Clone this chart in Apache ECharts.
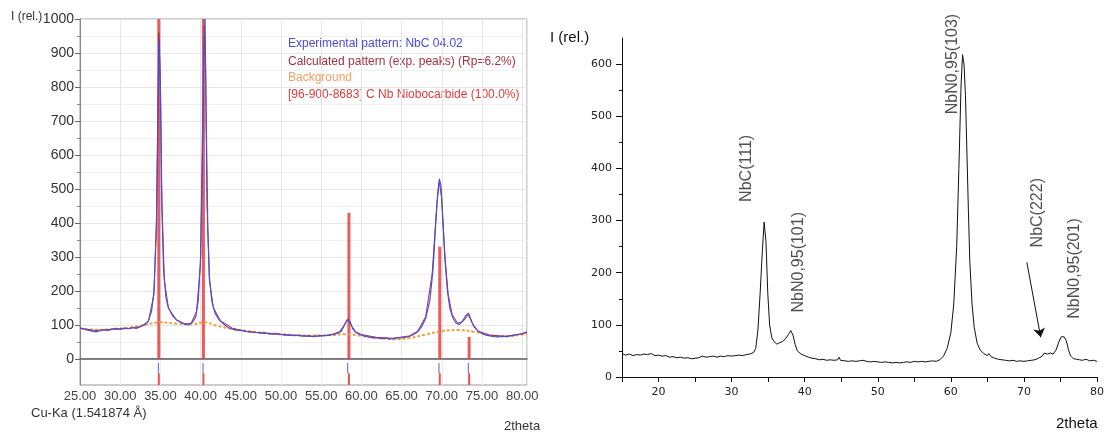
<!DOCTYPE html>
<html>
<head>
<meta charset="utf-8">
<script src="https://cdn.jsdelivr.net/npm/echarts/dist/echarts.min.js"></script>
<style>
html, body { margin: 0; padding: 0; background: #fff; }
#chart { width: 1107px; height: 435px; }
</style>
</head>
<body>
<div id="chart"></div>
<script>
// ---- left panel: refinement of NbC 04.02 ----
var expPattern = [[25,92],[25.5,88],[26,85],[26.5,82],[27,80],[27.5,83],[28,86],[28.5,84],[29,88],[29.5,90],[30,87],[30.5,91],[31,89],[31.5,92],[32,90],[32.5,95],[33,100],[33.5,112],[33.9,140],[34.2,200],[34.5,380],[34.7,700],[34.85,940],[35,800],[35.15,480],[35.4,260],[35.7,180],[36,150],[36.5,128],[37,115],[37.5,108],[38,102],[38.5,100],[39,108],[39.4,125],[39.7,170],[40,300],[40.2,600],[40.4,900],[40.55,1000],[40.7,700],[40.9,380],[41.1,240],[41.4,170],[41.8,135],[42.3,115],[43,100],[43.5,92],[44,88],[44.5,85],[45,84],[45.5,82],[46,80],[46.5,79],[47,78],[47.5,76],[48,77],[48.5,74],[49,73],[49.5,75],[50,72],[50.5,70],[51,71],[51.5,69],[52,70],[52.5,68],[53,67],[53.5,68],[54,66],[54.5,67],[55,68],[55.5,69],[56,70],[56.5,72],[57,75],[57.5,82],[57.9,100],[58.2,115],[58.4,120],[58.6,110],[58.9,90],[59.3,78],[59.8,72],[60.3,68],[61,64],[61.5,62],[62,63],[62.5,60],[63,62],[63.5,59],[64,60],[64.5,62],[65,63],[65.5,64],[66,67],[66.5,72],[67,80],[67.5,95],[68,120],[68.5,170],[68.9,260],[69.2,380],[69.5,490],[69.7,530],[69.9,510],[70.1,420],[70.4,290],[70.7,200],[71,150],[71.4,120],[71.8,105],[72.2,102],[72.6,112],[73,128],[73.3,135],[73.6,118],[74,95],[74.5,82],[75,75],[75.5,70],[76,68],[76.5,66],[77,65],[77.5,67],[78,66],[78.5,68],[79,70],[79.5,72],[80,75],[80.6,80]];

var calcPattern = [[25,90],[27,84],[29,87],[31,90],[32.5,95],[33.5,110],[34.2,190],[34.5,400],[34.8,960],[35,820],[35.2,450],[35.5,230],[36,150],[37,115],[38,104],[38.8,104],[39.5,140],[40,280],[40.3,700],[40.45,980],[40.6,900],[40.8,450],[41.1,230],[41.6,150],[42.5,112],[44,90],[46,80],[48,76],[50,72],[52,69],[54,67],[56,70],[57.3,80],[58,105],[58.35,118],[58.7,100],[59.3,80],[60,72],[62,63],[64,61],[66,68],[67,82],[68,125],[68.8,250],[69.4,460],[69.7,520],[70,470],[70.4,300],[70.8,190],[71.3,130],[72,105],[72.7,112],[73.3,130],[73.8,105],[74.5,82],[76,70],[78,67],[80,74],[80.6,78]];

var backgroundPattern = [[25,90],[27,86],[29,88],[31,92],[33,100],[35,108],[37,104],[39,103],[40.5,108],[42,98],[44,88],[46,82],[48,77],[50,73],[52,70],[54,69],[56,70],[58,73],[60,68],[62,62],[64,58],[66,62],[68,72],[70,82],[72,85],[74,80],[76,70],[78,66],[80,72],[80.6,74]];

// reference card 96-900-8683 (NbC)
var cardPos = [34.8, 40.35, 58.45, 69.75, 73.4];
var cardInt = [1000, 1000, 430, 330, 65];
// peak markers in the strip under the pattern
var expPeakPos = [34.75, 40.3, 58.3, 69.65, 73.3];

// ---- right panel ----
var xrdPattern = [[15,45],[15.5,42],[16,44],[16.5,41],[17,43],[17.5,42],[18,44],[18.5,43],[19,45],[19.5,41],[20,42],[20.5,40],[21,41],[21.5,38],[22,39],[22.5,37],[23,38],[23.5,36],[24,37],[24.5,35],[25,36],[25.5,37],[26,40],[26.5,38],[27,39],[27.5,40],[28,38],[28.5,40],[29,39],[29.5,41],[30,40],[30.5,41],[31,42],[31.5,41],[32,43],[32.5,44],[33,47],[33.3,55],[33.6,90],[33.9,160],[34.2,240],[34.45,297],[34.7,260],[34.95,160],[35.2,100],[35.5,75],[35.8,68],[36.2,63],[36.6,66],[37,68],[37.4,74],[37.8,82],[38.1,89],[38.4,80],[38.7,62],[39,50],[39.5,44],[40,41],[40.5,38],[41,36],[41.5,35],[42,33],[42.5,34],[43,32],[43.5,33],[44,32],[44.5,33],[44.7,38],[44.9,32],[45.5,31],[46,30],[46.5,31],[47,30],[47.5,31],[48,32],[48.5,30],[49,29],[49.5,30],[50,29],[50.5,28],[51,29],[51.5,28],[52,27],[52.5,28],[53,27],[53.5,28],[54,29],[54.5,28],[55,30],[55.5,29],[56,30],[56.5,29],[57,30],[57.5,31],[58,30],[58.5,33],[59,40],[59.5,55],[60,85],[60.4,140],[60.8,250],[61.1,400],[61.4,560],[61.6,618],[61.8,600],[62,540],[62.2,430],[62.4,320],[62.6,220],[62.9,140],[63.2,95],[63.6,65],[64,52],[64.5,45],[65,41],[65.2,45],[65.5,39],[66,36],[66.5,34],[67,33],[67.5,32],[68,31],[68.5,32],[69,30],[69.5,31],[70,30],[70.5,31],[71,32],[71.5,33],[72,36],[72.5,40],[72.8,46],[73.2,44],[73.6,46],[74,44],[74.4,52],[74.8,68],[75.1,77],[75.5,77],[75.8,70],[76.1,52],[76.4,40],[76.8,35],[77.2,34],[77.6,33],[78,32],[78.5,34],[79,31],[79.5,32],[80,30]];

var peakNames = ['NbC(111)', 'NbN0,95(101)', 'NbN0,95(103)', 'NbC(222)', 'NbN0,95(201)'];
var peakNameX = [32.1, 39.2, 60.3, 71.9, 76.9];
var peakNameY = [400, 220, 600, 315, 208];
var arrowFrom = [70.4, 220];
var arrowTo = [72.3, 76];

var rightXLabels = [20, 30, 40, 50, 60, 70, 80];
var rightYLabels = [0, 100, 200, 300, 400, 500, 600];
var rightYMinor = [50, 150, 250, 350, 450, 550];

// build vertical segments, broken with '-'
function sticks(pos, lo, hi) {
  var out = [];
  for (var i = 0; i < pos.length; i++) {
    var a = Array.isArray(lo) ? lo[i] : lo;
    var b = Array.isArray(hi) ? hi[i] : hi;
    out.push([pos[i], a], [pos[i], b], [pos[i], '-']);
  }
  return out;
}

var FONT = 'Liberation Sans, Arial, sans-serif';
var chart = echarts.init(document.getElementById('chart'), null, { renderer: 'canvas' });

var option = {
  animation: false,
  backgroundColor: '#fff',
  grid: [
    { left: 80, width: 447, top: 19, height: 340, show: true, borderColor: '#999', borderWidth: 1 },
    { left: 80, width: 447, top: 359, height: 26, show: true, borderColor: '#999', borderWidth: 1 },
    { left: 622, right: 7, top: 38, bottom: 58 }
  ],
  xAxis: [
    { type: 'value', gridIndex: 0, min: 25, max: 80.6, interval: 5,
      axisLabel: { show: false }, axisTick: { show: false },
      axisLine: { show: true, lineStyle: { color: '#666', width: 1.5 } },
      splitLine: { show: true, lineStyle: { color: '#e6e6e6' } } },
    { type: 'value', gridIndex: 1, min: 25, max: 80.6, interval: 5,
      axisLabel: { color: '#444', fontSize: 13, fontFamily: FONT, margin: 5,
        formatter: function (v) { return v.toFixed(2); } },
      axisTick: { show: false },
      axisLine: { show: false },
      splitLine: { show: true, lineStyle: { color: '#eeeeee' } } },
    { type: 'value', gridIndex: 2, min: 15, max: 80, interval: 5, position: 'bottom',
      axisLine: { show: true, lineStyle: { color: '#111', width: 1 } },
      axisTick: { show: true, length: 5, lineStyle: { color: '#111' } },
      axisLabel: { customValues: rightXLabels, color: '#222', fontSize: 11, fontFamily: 'DejaVu Sans', margin: 10 },
      splitLine: { show: false } }
  ],
  yAxis: [
    { type: 'value', gridIndex: 0, min: 0, max: 1000, interval: 100,
      axisLine: { show: true, lineStyle: { color: '#888' } },
      axisTick: { show: true, length: 5, lineStyle: { color: '#666' } },
      minorTick: { show: true, splitNumber: 2, length: 3, lineStyle: { color: '#888' } },
      axisLabel: { color: '#333', fontSize: 14, fontFamily: FONT, margin: 6,
        formatter: function (v) { return String(v); } },
      splitLine: { show: true, lineStyle: { color: '#e6e6e6' } },
      minorSplitLine: { show: true, lineStyle: { color: '#f0f0f0' } } },
    { type: 'value', gridIndex: 1, min: 0, max: 10, inverse: true,
      axisLine: { show: true, lineStyle: { color: '#888' } },
      axisTick: { show: false }, axisLabel: { show: false }, splitLine: { show: false } },
    { type: 'value', gridIndex: 2, min: 0, max: 650, position: 'left',
      axisLine: { show: true, lineStyle: { color: '#111', width: 1 } },
      axisTick: { show: true, customValues: rightYLabels, length: 6, lineStyle: { color: '#111' } },
      axisLabel: { customValues: rightYLabels, color: '#222', fontSize: 11, fontFamily: 'DejaVu Sans', margin: 10 },
      splitLine: { show: false } },
    { type: 'value', gridIndex: 2, min: 0, max: 650, position: 'left', offset: 0,
      axisLine: { show: false },
      axisTick: { show: true, customValues: rightYMinor, length: 3, lineStyle: { color: '#111' } },
      axisLabel: { show: false },
      splitLine: { show: false } }
  ],
  series: [
    { name: '[96-900-8683] C Nb Niobocarbide (100.0%)', type: 'line', xAxisIndex: 0, yAxisIndex: 0,
      data: sticks(cardPos, 0, cardInt), symbol: 'none', connectNulls: false,
      lineStyle: { color: 'rgba(228,64,64,0.85)', width: 3 }, z: 2 },
    { name: 'Background', type: 'line', xAxisIndex: 0, yAxisIndex: 0, data: backgroundPattern,
      symbol: 'none', smooth: true,
      lineStyle: { color: '#f3a040', width: 2, type: [3, 2] }, z: 3 },
    { name: 'Calculated pattern', type: 'line', xAxisIndex: 0, yAxisIndex: 0, data: calcPattern,
      symbol: 'none', lineStyle: { color: '#a83040', width: 1 }, z: 4 },
    { name: 'Experimental pattern', type: 'line', xAxisIndex: 0, yAxisIndex: 0, data: expPattern,
      symbol: 'none', lineStyle: { color: '#4b4bdc', width: 1.2 }, z: 5 },
    { type: 'line', xAxisIndex: 1, yAxisIndex: 1, data: sticks(expPeakPos, 1.5, 5.5),
      symbol: 'none', lineStyle: { color: '#5a5ad8', width: 1 } },
    { type: 'line', xAxisIndex: 1, yAxisIndex: 1, data: sticks(cardPos, 5.5, 10),
      symbol: 'none', lineStyle: { color: '#e35555', width: 2 } },

    { type: 'line', xAxisIndex: 2, yAxisIndex: 2, data: xrdPattern, symbol: 'none',
      lineStyle: { color: '#111', width: 1 },
      markLine: {
        silent: true, symbol: ['none', 'arrow'], symbolSize: 9,
        label: { show: false },
        lineStyle: { color: '#111', width: 1, type: 'solid' },
        data: [[{ coord: arrowFrom }, { coord: arrowTo }]]
      } },
    { type: 'scatter', xAxisIndex: 2, yAxisIndex: 2, symbolSize: 0,
      data: peakNames.map(function (n, i) { return { value: [peakNameX[i], peakNameY[i]], name: n }; }),
      label: { show: true, position: 'inside', rotate: 90, formatter: '{b}',
        color: '#222', fontSize: 16, fontFamily: FONT } }
  ],
  graphic: [
    { type: 'text', left: 11, top: 11, style: { text: 'I (rel.)', fill: '#333', font: '12px ' + FONT } },
    { type: 'text', left: 288, top: 38, style: { text: 'Experimental pattern: NbC 04.02', fill: '#4b4bdc', font: '12px ' + FONT } },
    { type: 'text', left: 288, top: 56, style: { text: 'Calculated pattern (exp. peaks) (Rp=6.2%)', fill: '#a83040', font: '12px ' + FONT } },
    { type: 'text', left: 288, top: 72, style: { text: 'Background', fill: '#f3a060', font: '12px ' + FONT } },
    { type: 'text', left: 288, top: 89, style: { text: '[96-900-8683] C Nb Niobocarbide (100.0%)', fill: '#e03a3a', font: '12px ' + FONT } },
    { type: 'text', left: 31, top: 407, style: { text: 'Cu-Ka (1.541874 Å)', fill: '#333', font: '13px ' + FONT } },
    { type: 'text', left: 504, top: 420, style: { text: '2theta', fill: '#333', font: '13px ' + FONT } },
    { type: 'text', left: 550, top: 30, style: { text: 'I (rel.)', fill: '#111', font: '15px ' + FONT } },
    { type: 'text', left: 1056, top: 416, style: { text: '2theta', fill: '#111', font: '15px ' + FONT } }
  ]
};

chart.setOption(option);
</script>
</body>
</html>
